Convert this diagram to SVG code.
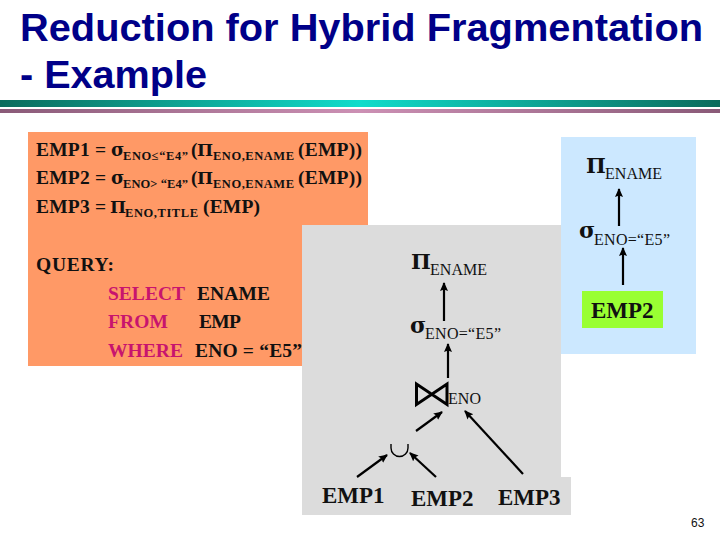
<svg xmlns="http://www.w3.org/2000/svg" width="720" height="540" viewBox="0 0 720 540">
<style>
text{font-family:"Liberation Serif","Times New Roman",serif;fill:#111}
.title{font-family:"Liberation Sans",Arial,sans-serif;font-weight:700;font-size:38px;fill:#000088}
.b{font-weight:700;font-size:19.500px}
.s{font-weight:700;font-size:12.500px}
.pi1{font-family:"DejaVu Serif",serif;font-weight:700;font-size:17px}
.sg1{font-family:"DejaVu Serif",serif;font-weight:700;font-size:18px}
.pi2{font-family:"DejaVu Serif",serif;font-weight:700;font-size:21px}
.sg2{font-family:"DejaVu Serif",serif;font-weight:700;font-size:22px}
.sub{font-size:16px}
.emp{font-weight:700;font-size:23px}
.m{fill:#c8146e}
.c{fill:none;stroke:#000;stroke-width:2.200}
.n{font-family:"Liberation Sans",Arial,sans-serif;font-size:12px}
</style>
<defs>
<linearGradient id="g1"><stop offset="0" stop-color="#0b6b5c"/><stop offset=".5" stop-color="#10dccb"/><stop offset="1" stop-color="#0b6b5c"/></linearGradient>
<linearGradient id="g2"><stop offset="0" stop-color="#8a5a78"/><stop offset=".5" stop-color="#cc90b4"/><stop offset="1" stop-color="#8a5a78"/></linearGradient>
<marker id="a" markerUnits="userSpaceOnUse" markerWidth="10" markerHeight="10" refX="8" refY="4" orient="auto"><path d="M0 0L9 4L0 8L1.500 4Z" fill="#000"/></marker>
</defs>
<rect width="720" height="540" fill="#fff"/>
<g id="header">
<text class="title" x="20" y="41" textLength="683" lengthAdjust="spacingAndGlyphs">Reduction for Hybrid Fragmentation</text>
<text class="title" x="20" y="88" textLength="187" lengthAdjust="spacingAndGlyphs">- Example</text>
<rect x="0" y="100" width="720" height="7" fill="url(#g1)"/>
<rect x="0" y="109" width="720" height="4" fill="url(#g2)"/>
</g>
<g id="query-panel">
<rect x="28" y="132" width="340" height="234" fill="#ff9966"/>
<text class="b" x="36" y="156" textLength="70">EMP1 =</text><text class="sg1" x="111" y="156">σ</text><text class="s" x="123" y="160" textLength="65">ENO≤“E4”</text><text class="b" x="191" y="156">(</text><text class="pi1" x="197" y="156">Π</text><text class="s" x="213" y="160" textLength="81">ENO,ENAME</text><text class="b" x="298" y="156" textLength="64">(EMP))</text>
<text class="b" x="36" y="184" textLength="70">EMP2 =</text><text class="sg1" x="111" y="184">σ</text><text class="s" x="123" y="188" textLength="65">ENO&gt; “E4”</text><text class="b" x="191" y="184">(</text><text class="pi1" x="197" y="184">Π</text><text class="s" x="213" y="188" textLength="81">ENO,ENAME</text><text class="b" x="298" y="184" textLength="64">(EMP))</text>
<text class="b" x="36" y="213" textLength="70">EMP3 =</text><text class="pi1" x="110" y="213">Π</text><text class="s" x="125" y="217" textLength="73">ENO,TITLE</text><text class="b" x="203" y="213" textLength="57">(EMP)</text>
<text class="b" x="36" y="271" textLength="78">QUERY:</text>
<text class="b m" x="108" y="300" textLength="77">SELECT</text><text class="b" x="197" y="300" textLength="73">ENAME</text>
<text class="b m" x="108" y="328" textLength="60">FROM</text><text class="b" x="199" y="328" textLength="42">EMP</text>
<text class="b m" x="108" y="357" textLength="75">WHERE</text><text class="b" x="195" y="357" textLength="107">ENO = “E5”</text>
</g>
<g id="panels">
<rect x="561" y="137" width="135" height="217" fill="#cce8ff"/>
<path d="M302 225H561V477H571V515H302Z" fill="#dcdcdc"/>
<rect x="582" y="291" width="81" height="37" fill="#99ff33"/>
</g>
<g id="connectors">
<path class="c" marker-end="url(#a)" d="M619 226V189"/>
<path class="c" marker-end="url(#a)" d="M623 285V248"/>
<path class="c" marker-end="url(#a)" d="M444 321V283"/>
<path class="c" marker-end="url(#a)" d="M448 378V344"/>
<path class="c" marker-end="url(#a)" d="M416 431L442 412"/>
<path class="c" marker-end="url(#a)" d="M523 474L465 411"/>
<path class="c" marker-end="url(#a)" d="M357 477L387 455"/>
<path class="c" marker-end="url(#a)" d="M436 477L410 453"/>
</g>
<g id="node-blue-project"><text class="pi2" x="586" y="173">Π</text><text class="sub" x="605" y="179" textLength="57">ENAME</text></g>
<g id="node-blue-select"><text class="sg2" x="579" y="238">σ</text><text class="sub" x="594" y="245" textLength="76">ENO=“E5”</text></g>
<g id="node-blue-emp2"><text class="emp" x="591" y="318">EMP2</text></g>
<g id="node-gray-project"><text class="pi2" x="411" y="269">Π</text><text class="sub" x="430" y="275" textLength="57">ENAME</text></g>
<g id="node-gray-select"><text class="sg2" x="410" y="333">σ</text><text class="sub" x="425" y="339" textLength="76">ENO=“E5”</text></g>
<g id="node-join"><path d="M416.500 384V404.500L447 384V404.500Z" fill="none" stroke="#000" stroke-width="3"/><text class="sub" x="448" y="404" textLength="33">ENO</text></g>
<g id="node-union"><path d="M391 444V448A8.500 8.500 0 0 0 408 448V444" fill="none" stroke="#000" stroke-width="1.400"/></g>
<g id="node-emp1"><text class="emp" x="322" y="503">EMP1</text></g>
<g id="node-emp2"><text class="emp" x="411" y="506">EMP2</text></g>
<g id="node-emp3"><text class="emp" x="498" y="505">EMP3</text></g>
<text class="n" x="691" y="527">63</text>
</svg>
